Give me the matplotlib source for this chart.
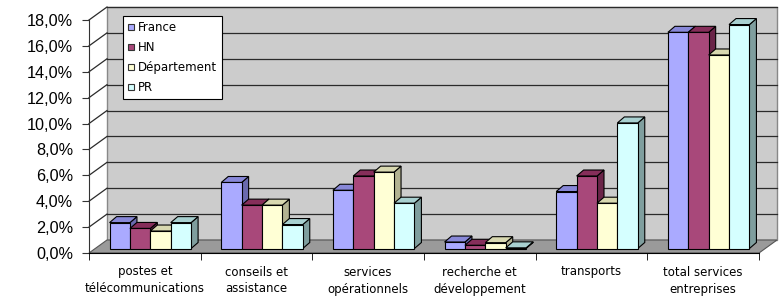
import matplotlib
matplotlib.use("Agg")
import matplotlib.pyplot as plt
from matplotlib.patches import Polygon, Rectangle
from matplotlib.lines import Line2D
import numpy as np

categories = ["postes et\ntélécommunications", "conseils et\nassistance", "services\nopérationnels",
              "recherche et\ndéveloppement", "transports", "total services\nentreprises"]
series = ["France", "HN", "Département", "PR"]
france = [2.0, 5.1, 4.5, 0.5, 4.4, 16.7]
hn = [1.55, 3.35, 5.6, 0.25, 5.6, 16.7]
departement = [1.35, 3.35, 5.9, 0.45, 3.5, 14.95]
pr = [2.0, 1.85, 3.5, 0.05, 9.7, 17.3]
values = [france, hn, departement, pr]
yticks = np.arange(0, 19, 2)

face = ["#aaaaff", "#a8487a", "#ffffd5", "#d5ffff"]
side = ["#6a6aae", "#6a2448", "#b3b392", "#7f9e9e"]
top = ["#8888d8", "#862e5a", "#d8d8b0", "#a8d0d0"]

W, H = 783, 296
fig = plt.figure(figsize=(W / 100, H / 100), dpi=100)
ax = fig.add_axes([89 / W, 1 - 253 / H, (759 - 89) / W, (253 - 20) / H])
ax.set_xlim(0, 6)
ax.set_ylim(0, 18)
ax.set_facecolor("none")

# pixel -> data conversions
kx = 6 / 670
ky = 18 / 233
wall_dx, wall_dy = 18 * kx, 13 * ky
bar_dx, bar_dy = 5.5 * kx, 4.5 * ky
dep_dx, dep_dy = 7 * kx, 6 * ky

# back wall and floor
ax.add_patch(Rectangle((wall_dx, wall_dy), 6, 18, facecolor="#cccccc", edgecolor="#888888",
                       lw=1, clip_on=False, zorder=0))
ax.add_patch(Polygon([(0, 0), (6, 0), (6 + wall_dx, wall_dy), (wall_dx, wall_dy)],
                     closed=True, facecolor="#9a9a9a", edgecolor="#555555", lw=0.8,
                     clip_on=False, zorder=1))
for y in yticks[1:]:
    ax.plot([wall_dx, 6 + wall_dx], [y + wall_dy, y + wall_dy], color="#2a2a2a", lw=0.9,
            clip_on=False, zorder=1)
    ax.plot([0, wall_dx], [y, y + wall_dy], color="#2a2a2a", lw=0.9, clip_on=False, zorder=1)

# bars
bw = 0.1825
start = (1 - 4 * bw) / 2
for i in range(len(categories)):
    for j, vals in enumerate(values):
        x0 = i + start + j * bw + bar_dx
        x1 = x0 + bw
        y0 = bar_dy
        y1 = bar_dy + vals[i]
        z = 2 + i * 10 + j
        ax.add_patch(Polygon([(x1, y0), (x1 + dep_dx, y0 + dep_dy), (x1 + dep_dx, y1 + dep_dy), (x1, y1)],
                             closed=True, facecolor=side[j], edgecolor="black", lw=0.8,
                             clip_on=False, zorder=z))
        ax.add_patch(Polygon([(x0, y1), (x1, y1), (x1 + dep_dx, y1 + dep_dy), (x0 + dep_dx, y1 + dep_dy)],
                             closed=True, facecolor=top[j], edgecolor="black", lw=0.8,
                             clip_on=False, zorder=z))
        ax.add_patch(Rectangle((x0, y0), bw, vals[i], facecolor=face[j], edgecolor="black",
                               lw=0.8, clip_on=False, zorder=z + 0.5))

for s in ["top", "right"]:
    ax.spines[s].set_visible(False)
ax.spines["left"].set_color("#333333")
ax.spines["bottom"].set_color("black")
ax.spines["left"].set_zorder(100)
ax.spines["bottom"].set_zorder(100)

ax.set_yticks(yticks)
ax.set_yticklabels([f"{v:.1f}%".replace(".", ",") for v in yticks],
                   fontfamily="Liberation Sans", fontsize=11.7)
ax.tick_params(axis="y", length=5, pad=6.5, color="#333333")

ax.set_xticks(np.arange(7), minor=True)
ax.set_xticks(np.arange(6) + 0.5)
ax.set_xticklabels(categories, fontfamily="DejaVu Sans", fontsize=8.5, linespacing=1.4)
ax.tick_params(axis="x", which="major", length=0, pad=9)
ax.tick_params(axis="x", which="minor", length=5, color="black")

handles = [Line2D([], [], ls="none", marker="s", markersize=5, markerfacecolor=face[j],
                  markeredgecolor="#333333", markeredgewidth=0.8) for j in range(4)]
leg = fig.legend(handles, series, loc="upper left", bbox_to_anchor=(123 / W, 1 - 16 / H),
                 bbox_transform=fig.transFigure, borderaxespad=0, fancybox=False,
                 framealpha=1, edgecolor="black", prop={"family": "DejaVu Sans", "size": 8.5},
                 handlelength=0.6, handletextpad=0.3, labelspacing=0.6, borderpad=0.4)
leg.get_frame().set_linewidth(0.8)
leg.set_zorder(200)

fig.savefig("out.png", dpi=100)
